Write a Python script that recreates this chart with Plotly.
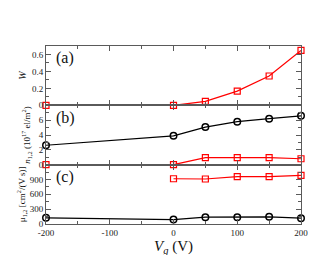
import plotly.graph_objects as go
from plotly.subplots import make_subplots

vg = [-200, 0, 50, 100, 150, 200]
vg_c = [0, 50, 100, 150, 200]
w_red = [0.0, 0.0, 0.046, 0.168, 0.346, 0.648]
w_black_x = [-200, 200]
w_black = [0.0, 0.0]
n_black = [2.62, 3.89, 5.07, 5.8, 6.2, 6.58]
n_red = [0.0, 0.0, 0.96, 0.96, 0.96, 0.8]
mu_red = [915, 910, 957, 957, 985]
mu_black = [125, 90, 139, 139, 146, 118]
x_tickvals = [-200, -100, 0, 100, 200]
x_ticktext = ["-200", "-100", "0", "100", "200"]

RED = "#ff0000"
BLK = "#000000"
FRAME = "#5a5a5a"
FONT = "Liberation Serif"

fig = make_subplots(rows=3, cols=1, shared_xaxes=True, vertical_spacing=0)

sq = dict(symbol="square-open", size=6, color=RED, line=dict(width=1.2, color=RED))
ci = dict(symbol="circle-open", size=6.5, color=BLK, line=dict(width=1.5, color=BLK))

fig.add_trace(go.Scatter(x=w_black_x, y=w_black, mode="lines", line=dict(color=BLK, width=1.6),
                         cliponaxis=False), row=1, col=1)
fig.add_trace(go.Scatter(x=vg, y=w_red, mode="lines+markers", line=dict(color=RED, width=1.2), marker=sq,
                         cliponaxis=False), row=1, col=1)
fig.add_trace(go.Scatter(x=vg, y=n_black, mode="lines+markers", line=dict(color=BLK, width=1.2), marker=ci,
                         cliponaxis=False), row=2, col=1)
fig.add_trace(go.Scatter(x=vg, y=n_red, mode="lines+markers", line=dict(color=RED, width=1.2), marker=sq,
                         cliponaxis=False), row=2, col=1)
fig.add_trace(go.Scatter(x=vg_c, y=mu_red, mode="lines+markers", line=dict(color=RED, width=1.2), marker=sq,
                         cliponaxis=False), row=3, col=1)
fig.add_trace(go.Scatter(x=vg, y=mu_black, mode="lines+markers", line=dict(color=BLK, width=1.2), marker=ci,
                         cliponaxis=False), row=3, col=1)

tickfont = dict(family=FONT, size=9, color="#222")
for r in (1, 2, 3):
    fig.update_xaxes(row=r, col=1, range=[-200, 200], tickvals=x_tickvals, ticktext=x_ticktext,
                     ticks="inside", ticklen=5,
                     tickcolor=FRAME, showline=True, linecolor=FRAME, linewidth=1, mirror="ticks",
                     showgrid=False, zeroline=False, tickfont=tickfont,
                     showticklabels=(r == 3),
                     minor=dict(dtick=50, tick0=-200, ticks="inside", ticklen=3, tickcolor=FRAME))

ycommon = dict(ticks="inside", ticklen=5, tickcolor=FRAME, showline=True, linecolor=FRAME, linewidth=1,
               mirror="ticks", showgrid=False, zeroline=False, tickfont=tickfont)
fig.update_yaxes(row=1, col=1, range=[0, 0.7], tickvals=[0, 0.2, 0.4, 0.6], ticktext=["0", "0.2", "0.4", "0.6"],
                 minor=dict(dtick=0.1, ticks="inside", ticklen=3, tickcolor=FRAME),
                 title=dict(text="<i>W</i>", font=dict(family=FONT, size=10), standoff=3), **ycommon)
fig.update_yaxes(row=2, col=1, range=[0, 8], tickvals=[0, 2, 4, 6], ticktext=["0", "2", "4", "6"],
                 minor=dict(dtick=1, ticks="inside", ticklen=3, tickcolor=FRAME),
                 title=dict(text="<i>n</i><sub>1,2</sub> (10<sup>17</sup> el/m<sup>2</sup>)",
                            font=dict(family=FONT, size=9), standoff=6), **ycommon)
fig.update_yaxes(row=3, col=1, range=[0, 1200], tickvals=[0, 300, 600, 900], ticktext=["0", "300", "600", "900"],
                 minor=dict(dtick=150, ticks="inside", ticklen=3, tickcolor=FRAME),
                 title=dict(text="μ<sub>1,2</sub> [cm<sup>2</sup>/(V s)]",
                            font=dict(family=FONT, size=9), standoff=2), **ycommon)

fig.update_xaxes(row=3, col=1, title=dict(text="<i>V</i><sub><i>g</i></sub> (V)",
                                          font=dict(family=FONT, size=15), standoff=3))

for i, lab in enumerate(["(a)", "(b)", "(c)"]):
    xr = "x domain" if i == 0 else f"x{i+1} domain"
    yr = "y domain" if i == 0 else f"y{i+1} domain"
    fig.add_annotation(text=lab, xref=xr, yref=yr, x=0.03, y=0.98, xanchor="left", yanchor="top",
                       showarrow=False, font=dict(family=FONT, size=16, color="#111"))

fig.update_layout(width=330, height=255, margin=dict(l=38, r=37, t=38, b=39),
                  paper_bgcolor="white", plot_bgcolor="white", showlegend=False,
                  font=dict(family=FONT, color="#111"))

fig.write_html("out.html")
